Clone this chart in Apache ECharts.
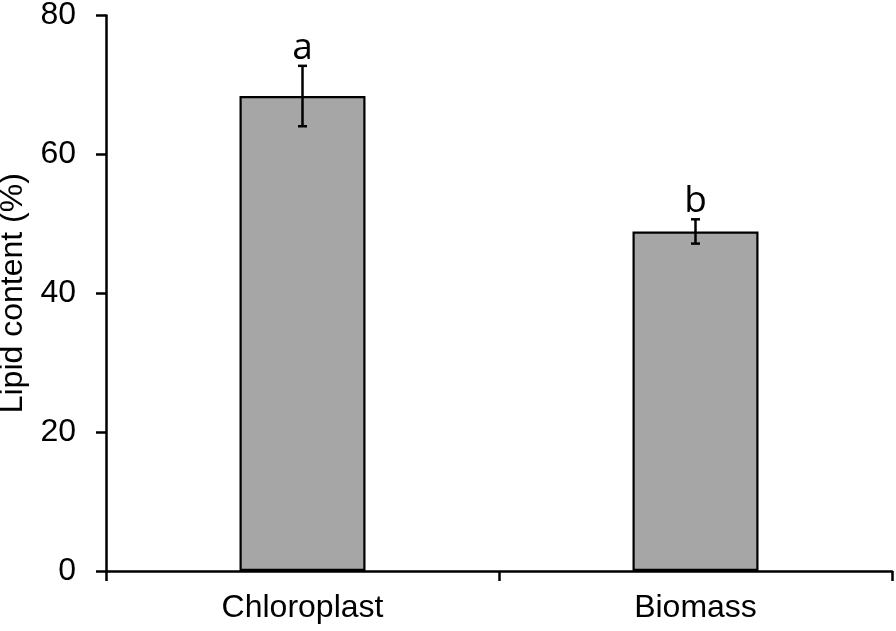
<!DOCTYPE html>
<html>
<head>
<meta charset="utf-8">
<script src="https://cdn.jsdelivr.net/npm/echarts@6/dist/echarts.min.js"></script>
<style>html,body{margin:0;padding:0;background:#fff;}#c{width:896px;height:631px;}</style>
</head>
<body>
<div id="c"></div>
<script>
var categories = ['Chloroplast', 'Biomass'];
var means = [68.4, 48.9];
var errors = [4.35, 1.75];
var letters = ['a', 'b'];
var yTicks = [0, 20, 40, 60, 80];

var errData = categories.map(function (c, i) {
  return [i, means[i] - errors[i], means[i] + errors[i], letters[i]];
});

var chart = echarts.init(document.getElementById('c'));
chart.setOption({
  animation: false,
  backgroundColor: '#fff',
  grid: { left: 106, right: 4, top: 15.5, bottom: 60, containLabel: false, outerBoundsMode: 'none' },
  xAxis: {
    type: 'category',
    data: categories,
    axisLine: { show: true, lineStyle: { color: '#000', width: 2.5 } },
    axisTick: { show: true, length: 10, lineStyle: { color: '#000', width: 2.5 } },
    axisLabel: { fontSize: 32, color: '#000', margin: 21, fontFamily: 'Liberation Sans, Arial, sans-serif' },
    splitLine: { show: false }
  },
  yAxis: {
    type: 'value',
    min: yTicks[0],
    max: yTicks[yTicks.length - 1],
    interval: 20,
    name: 'Lipid content (%)',
    nameLocation: 'middle',
    nameRotate: 90,
    nameGap: 74,
    nameTextStyle: { fontSize: 32, color: '#000', fontFamily: 'Liberation Sans, Arial, sans-serif' },
    axisLine: { show: true, lineStyle: { color: '#000', width: 2.5 } },
    axisTick: { show: true, length: 10, lineStyle: { color: '#000', width: 2.5 } },
    axisLabel: { fontSize: 32, color: '#000', margin: 30, fontFamily: 'Liberation Sans, Arial, sans-serif' },
    splitLine: { show: false }
  },
  series: [
    {
      type: 'bar',
      data: means,
      barWidth: 126,
      itemStyle: { color: '#a6a6a6', borderColor: '#000', borderWidth: 2.2 }
    },
    {
      type: 'custom',
      data: errData,
      z: 10,
      renderItem: function (params, api) {
        var x = api.value(0);
        var lo = api.coord([x, api.value(1)]);
        var hi = api.coord([x, api.value(2)]);
        var cap = 4.5;
        var ls = { stroke: '#000', lineWidth: 2.5 };
        return {
          type: 'group',
          children: [
            { type: 'line', shape: { x1: lo[0], y1: lo[1], x2: hi[0], y2: hi[1] }, style: ls },
            { type: 'line', shape: { x1: lo[0] - cap, y1: lo[1], x2: lo[0] + cap, y2: lo[1] }, style: ls },
            { type: 'line', shape: { x1: hi[0] - cap, y1: hi[1], x2: hi[0] + cap, y2: hi[1] }, style: ls },
            {
              type: 'text',
              style: {
                text: api.value(3),
                x: hi[0],
                y: hi[1] + 1,
                textAlign: 'center',
                textVerticalAlign: 'bottom',
                fontSize: 37,
                fontFamily: 'Open Sans, sans-serif',
                fill: '#000'
              }
            }
          ]
        };
      }
    }
  ]
});
</script>
</body>
</html>
